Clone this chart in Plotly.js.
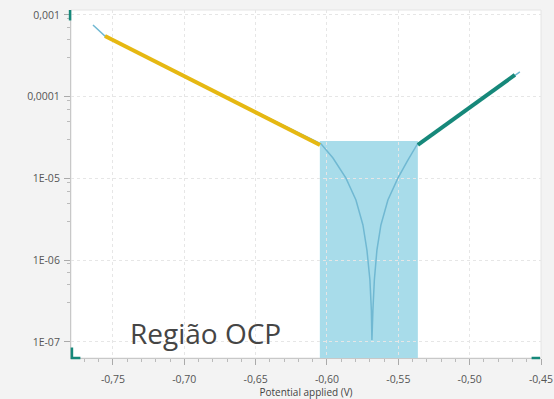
<!DOCTYPE html>
<html>
<head>
<meta charset="utf-8">
<script src="https://cdn.plot.ly/plotly-3.0.1.min.js"></script>
<style>
html,body{margin:0;padding:0;background:#f3f3f3;}
#chart{width:554px;height:399px;}
</style>
</head>
<body>
<div id="chart"></div>
<script>
// Measured polarization curve (|current| vs potential)
var potential = [-0.764, -0.7556, -0.680, -0.6042, -0.5958, -0.5867, -0.5797, -0.5748, -0.5720, -0.5699, -0.5689, -0.5685, -0.5678, -0.5668, -0.5650, -0.5622, -0.5573, -0.5503, -0.5433, -0.5370, -0.5010, -0.4648];
var current = [7.55e-4, 5.53e-4, 1.19e-4, 2.65e-5, 1.78e-5, 1.01e-5, 5.46e-6, 2.70e-6, 1.33e-6, 5.73e-7, 2.46e-7, 1.06e-7, 2.46e-7, 5.73e-7, 1.33e-6, 2.70e-6, 5.46e-6, 1.01e-5, 1.68e-5, 2.57e-5, 7.15e-5, 2.01e-4];

// Tafel fit segments
var cathodicE = [-0.7556, -0.6049];
var cathodicI = [5.53e-4, 2.57e-5];
var anodicE = [-0.5363, -0.4683];
var anodicI = [2.57e-5, 1.85e-4];

// OCP region highlight
var ocpRegionE = [-0.605, -0.5363];
var ocpRegionTop = 2.88e-5;
var ocpLabel = 'Região OCP';

// Tick labels
var xTickVals = [-0.75, -0.70, -0.65, -0.60, -0.55, -0.50, -0.45];
var xTickText = ['-0,75', '-0,70', '-0,65', '-0,60', '-0,55', '-0,50', '-0,45'];
var yTickVals = [1e-7, 1e-6, 1e-5, 1e-4, 1e-3];
var yTickText = ['1E-07', '1E-06', '1E-05', '0,0001', '0,001'];
var yMinorVals = [3e-7, 5e-7, 7e-7, 9e-7, 3e-6, 5e-6, 7e-6, 9e-6, 3e-5, 5e-5, 7e-5, 9e-5, 3e-4, 5e-4, 7e-4, 9e-4];
var xTitle = 'Potential applied (V)';

var teal = 'rgb(22,136,122)';
var traces = [
  {x: potential, y: current, type: 'scatter', mode: 'lines',
   line: {color: 'rgb(112,184,210)', width: 1.5}, hoverinfo: 'skip'},
  {x: cathodicE, y: cathodicI, type: 'scatter', mode: 'lines',
   line: {color: 'rgb(230,184,18)', width: 4}, hoverinfo: 'skip'},
  {x: anodicE, y: anodicI, type: 'scatter', mode: 'lines',
   line: {color: teal, width: 4}, hoverinfo: 'skip'}
];

var tickFont = {family: 'Open Sans, sans-serif', size: 10.5, color: '#555'};
var layout = {
  width: 554, height: 399,
  margin: {l: 71, r: 13, t: 10, b: 41},
  paper_bgcolor: '#f3f3f3',
  plot_bgcolor: '#ffffff',
  showlegend: false,
  separators: ',.',
  xaxis: {
    range: [-0.7794, -0.45],
    tickmode: 'array', tickvals: xTickVals, ticktext: xTickText,
    ticks: 'outside', ticklen: 6, tickcolor: '#aaa', tickwidth: 1,
    ticklabelstandoff: 5,
    tickfont: tickFont,
    showline: true, linecolor: '#c8c8c8', linewidth: 1,
    showgrid: true, gridcolor: '#e6e6e6', griddash: 'dot', gridwidth: 1,
    zeroline: false,
    minor: {dtick: 0.01, tick0: -0.75, ticks: 'outside', ticklen: 3, tickcolor: '#bbb', showgrid: false},
    title: {text: xTitle, standoff: 3, font: {family: 'Open Sans, sans-serif', size: 10, color: '#444'}}
  },
  yaxis: {
    type: 'log',
    range: [-7.196, -2.939],
    tickmode: 'array', tickvals: yTickVals, ticktext: yTickText,
    ticks: 'outside', ticklen: 6, tickcolor: '#aaa', tickwidth: 1,
    ticklabelstandoff: 2,
    tickfont: tickFont,
    showline: true, linecolor: '#c8c8c8', linewidth: 1,
    showgrid: true, gridcolor: '#e6e6e6', griddash: 'dot', gridwidth: 1,
    zeroline: false,
    minor: {tickmode: 'array', tickvals: yMinorVals, ticks: 'outside', ticklen: 3, tickcolor: '#bbb', showgrid: false}
  },
  shapes: [
    {type: 'rect', xref: 'x', yref: 'y', x0: ocpRegionE[0], x1: ocpRegionE[1], y0: 1e-9, y1: ocpRegionTop,
     fillcolor: 'rgb(168,220,234)', line: {width: 0}, layer: 'below'},
    {type: 'rect', xref: 'paper', yref: 'paper', x0: 0, x1: 1, y0: 0, y1: 1,
     line: {color: '#e4e4e4', width: 1}, layer: 'below'},
    {type: 'line', xref: 'paper', yref: 'paper', x0: -0.002, x1: -0.002, y0: 0.97, y1: 1.0,
     line: {color: teal, width: 2.5}},
    {type: 'path', xref: 'paper', yref: 'paper', path: 'M 0.002 0.03 L 0.002 0 L 0.02 0',
     line: {color: teal, width: 2.5}},
    {type: 'line', xref: 'paper', yref: 'paper', x0: 0.98, x1: 0.998, y0: 0, y1: 0,
     line: {color: teal, width: 2.5}}
  ],
  annotations: [
    {text: ocpLabel, xref: 'x', yref: 'paper', x: -0.6848, y: 0.072,
     xanchor: 'center', yanchor: 'middle', showarrow: false,
     font: {family: 'Open Sans, sans-serif', size: 28, color: '#454545'}}
  ]
};

Plotly.newPlot('chart', traces, layout, {staticPlot: true, displayModeBar: false});
</script>
</body>
</html>
